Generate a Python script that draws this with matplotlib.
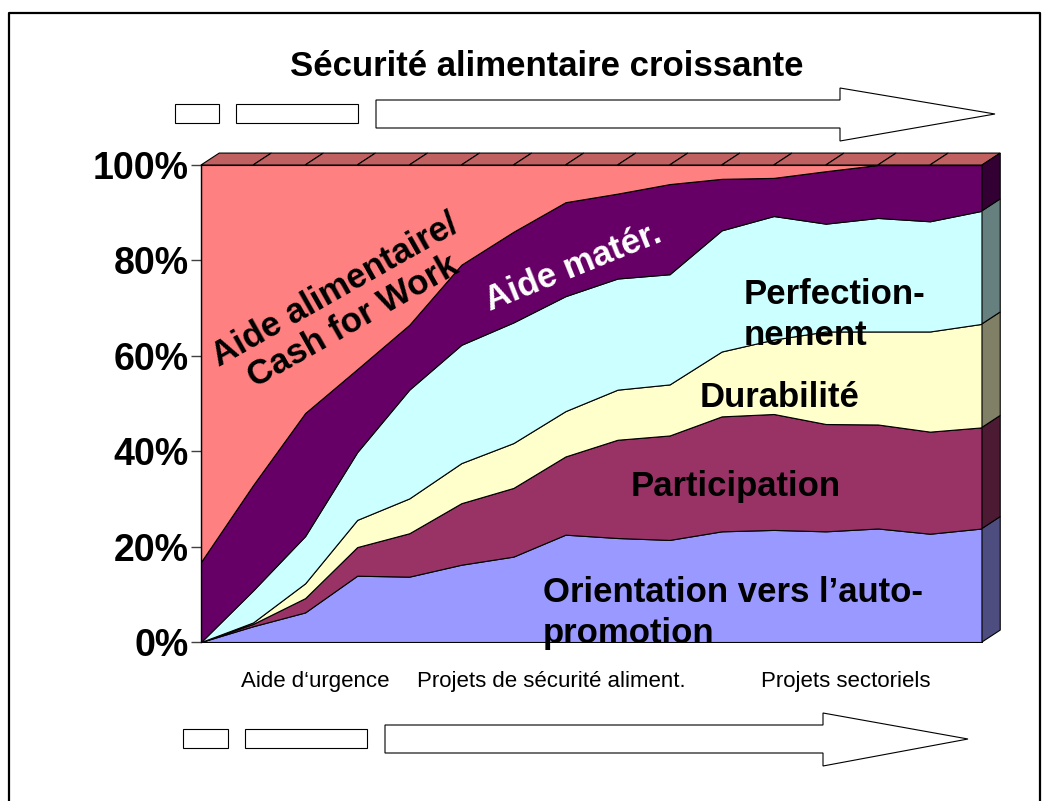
import matplotlib
matplotlib.use("Agg")
import matplotlib.pyplot as plt
from matplotlib.patches import Polygon
import numpy as np

plt.rcParams["font.family"] = ["Liberation Sans", "DejaVu Sans"]

# Valeurs (parts en %, 16 points de gauche a droite)
orientation = [0, 3.3, 6.2, 13.9, 13.7, 16.2, 17.9, 22.5, 21.8, 21.4, 23.2, 23.5, 23.2, 23.8, 22.7, 23.8]
participation = [0, 0.5, 3.0, 6.0, 9.1, 12.9, 14.4, 16.4, 20.6, 21.9, 24.1, 24.3, 22.5, 21.8, 21.4, 21.2]
durabilite = [0, 0.3, 3.1, 5.7, 7.3, 8.4, 9.4, 9.5, 10.5, 10.7, 13.6, 15.6, 19.4, 19.5, 21.0, 21.7]
perfectionnement = [0, 6.7, 9.9, 14.2, 22.8, 24.8, 25.3, 24.1, 23.3, 23.1, 25.4, 25.9, 22.6, 23.8, 23.1, 23.7]
aide_mater = [16.8, 22.1, 25.8, 17.4, 13.6, 16.8, 19.0, 19.7, 17.8, 18.9, 10.8, 8.0, 11.0, 11.1, 11.8, 9.6]
aide_alim = [83.2, 67.1, 52.0, 42.8, 33.5, 20.9, 14.0, 7.8, 6.0, 4.0, 2.9, 2.7, 1.3, 0, 0, 0]

series = [orientation, participation, durabilite, perfectionnement, aide_mater, aide_alim]
couleurs = ["#9999FF", "#993366", "#FFFFCC", "#CCFFFF", "#660066", "#FF8080"]
couleurs_cote = ["#4D4D80", "#4D1A33", "#808066", "#668080", "#330033", "#804040"]
couleur_dessus = "#C06060"

graduations = [0, 20, 40, 60, 80, 100]
etiquettes_y = ["0%", "20%", "40%", "60%", "80%", "100%"]
phases = ["Aide d\u2018urgence", "Projets de s\u00e9curit\u00e9 aliment.", "Projets sectoriels"]

W, H = 1045, 801
fig = plt.figure(figsize=(W / 100, H / 100), dpi=100)

# axe principal (face avant du graphique 3D)
ax = fig.add_axes([201 / W, (H - 642) / H, 781 / W, 477 / H])
x = np.arange(len(orientation))
ax.stackplot(x, *series, colors=couleurs, edgecolor="black", linewidth=0.8, zorder=2)
ax.set_xlim(0, len(x) - 1)
ax.set_ylim(0, 100)

# effet de profondeur
dx, dy = 0.35, 2.5
for i in range(len(x) - 1):
    dessus = Polygon([(x[i], 100), (x[i + 1], 100), (x[i + 1] + dx, 100 + dy), (x[i] + dx, 100 + dy)],
                     closed=True, facecolor=couleur_dessus, edgecolor="black", linewidth=0.8,
                     clip_on=False, zorder=3)
    ax.add_patch(dessus)

cumul = np.cumsum([s[-1] for s in series])
bas = 0
xe = x[-1]
for haut, c in zip(cumul, couleurs_cote):
    if haut - bas > 0:
        cote = Polygon([(xe, bas), (xe, haut), (xe + dx, haut + dy), (xe + dx, bas + dy)],
                       closed=True, facecolor=c, edgecolor="black", linewidth=0.8,
                       clip_on=False, zorder=3)
        ax.add_patch(cote)
    bas = haut

for s in ["top", "right", "bottom"]:
    ax.spines[s].set_visible(False)
ax.spines["left"].set_linewidth(1.0)
ax.spines["left"].set_zorder(4)
ax.set_xticks([])
ax.set_yticks(graduations)
ax.set_yticklabels(etiquettes_y, fontsize=27, fontweight="bold")
ax.tick_params(axis="y", direction="out", length=7, width=1, color="#404040", pad=2)

# etiquettes des zones
ax.text(2.75, 70.5, "Aide alimentaire/\nCash for Work", rotation=29.5, rotation_mode="anchor",
        ha="center", va="center", multialignment="center", fontsize=25, fontweight="bold",
        linespacing=1.15, zorder=5)
ax.text(7.14, 78.5, "Aide mat\u00e9r.", rotation=22, rotation_mode="anchor",
        ha="center", va="center", fontsize=25, fontweight="bold", color="white", zorder=5)
ax.text(10.43, 68.6, "Perfection-\nnement", ha="left", va="center", fontsize=25,
        fontweight="bold", linespacing=1.3, zorder=5)
ax.text(11.12, 51.2, "Durabilit\u00e9", ha="center", va="center", fontsize=25,
        fontweight="bold", zorder=5)
ax.text(10.26, 32.7, "Participation", ha="center", va="center", fontsize=25,
        fontweight="bold", zorder=5)
ax.text(6.57, 6.0, "Orientation vers l\u2019auto-\npromotion", ha="left", va="center",
        fontsize=25, fontweight="bold", linespacing=1.3, zorder=5)

# calque en pixels pour le cadre, le titre et les fleches
ov = fig.add_axes([0, 0, 1, 1], facecolor="none")
ov.set_xlim(0, W)
ov.set_ylim(H, 0)
ov.axis("off")

ov.plot([9, 9, 1040, 1040], [H, 13, 13, H], color="black", linewidth=1.6)

ov.text(547, 66, "S\u00e9curit\u00e9 alimentaire croissante", ha="center", va="center",
        fontsize=25, fontweight="bold")


def fleche(y0, x_petit, x_rect, x_corps, x_tete, x_pointe):
    # petit rectangle, rectangle moyen puis grande fleche
    yc = y0
    for (a, b) in [x_petit, x_rect]:
        ov.add_patch(Polygon([(a, yc - 10), (b, yc - 10), (b, yc + 9), (a, yc + 9)],
                             closed=True, facecolor="white", edgecolor="black", linewidth=0.8))
    pts = [(x_corps, yc - 14), (x_tete, yc - 14), (x_tete, yc - 26), (x_pointe, yc),
           (x_tete, yc + 27), (x_tete, yc + 14), (x_corps, yc + 14)]
    ov.add_patch(Polygon(pts, closed=True, facecolor="white", edgecolor="black", linewidth=0.8))


fleche(114, (175, 219), (236, 358), 376, 840, 995)
fleche(739, (183, 228), (245, 367), 385, 823, 968)

for txt, xc in zip(phases, [315, 551, 846]):
    ov.text(xc, 682, txt, ha="center", va="center", fontsize=16)

fig.savefig("out.png", dpi=100)
